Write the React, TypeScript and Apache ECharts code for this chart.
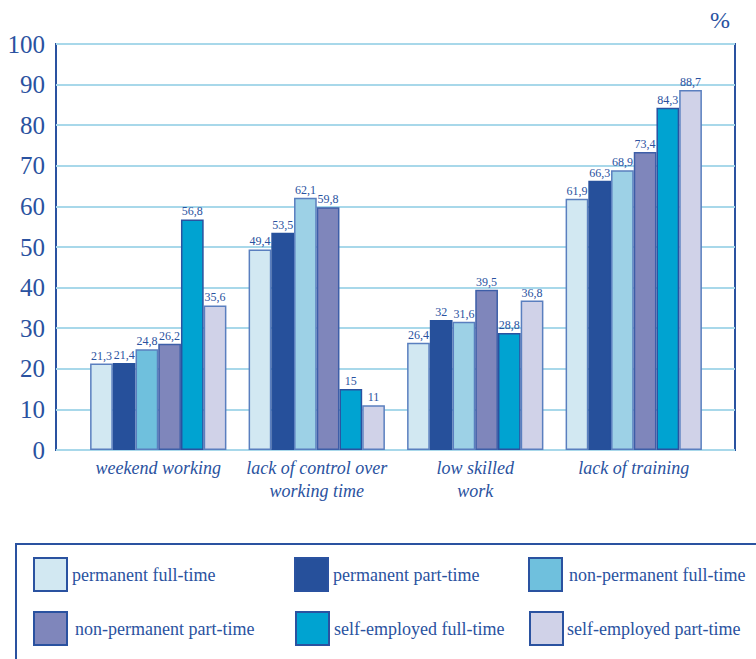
import React, { useEffect, useRef } from "react";
import * as echarts from "echarts";

const categories = [
  "weekend working",
  "lack of control over\nworking time",
  "low skilled\nwork",
  "lack of training",
];
const seriesNames = [
  "permanent full-time",
  "permanent part-time",
  "non-permanent full-time",
  "non-permanent part-time",
  "self-employed full-time",
  "self-employed part-time",
];
const permanentFullTime = [21.3, 49.4, 26.4, 61.9];
const permanentPartTime = [21.4, 53.5, 32, 66.3];
const nonPermanentFullTime = [24.8, 62.1, 31.6, 68.9];
const nonPermanentPartTime = [26.2, 59.8, 39.5, 73.4];
const selfEmployedFullTime = [56.8, 15, 28.8, 84.3];
const selfEmployedPartTime = [35.6, 11, 36.8, 88.7];
const yTicks = [0, 10, 20, 30, 40, 50, 60, 70, 80, 90, 100];

const seriesValues = [
  permanentFullTime,
  permanentPartTime,
  nonPermanentFullTime,
  nonPermanentPartTime,
  selfEmployedFullTime,
  selfEmployedPartTime,
];
const colors = ["#d2e8f2", "#26509b", "#9dd1e6", "#7f86bb", "#00a3d1", "#d0d2e8"];
const legendColors = ["#d2e8f2", "#26509b", "#6fc0dd", "#7f86bb", "#00a3d1", "#d0d2e8"];
const borderColors = ["#5a7fbf", "#26509b", "#5a7fbf", "#3d5ea8", "#2a52a0", "#5a7fbf"];
const legendPos = [
  [33, 557],
  [294, 557],
  [528, 557],
  [33, 611],
  [295, 611],
  [529, 611],
];
const legendTextPad = [5, 5, 7, 8, 5, 4];

const BLUE = "#2a52a0";
const SERIF = "Liberation Serif";

export default function App() {
  const ref = useRef<HTMLDivElement>(null);
  useEffect(() => {
    document.body.style.margin = "0";
    const chart = echarts.init(ref.current!, null, { renderer: "svg" });
    const series = seriesValues.map((vals, i) => ({
      name: seriesNames[i],
      type: "bar",
      xAxisIndex: 1,
      yAxisIndex: 1,
      barGap: "0%",
      barCategoryGap: "14%",
      itemStyle: { color: colors[i], borderColor: borderColors[i], borderWidth: 1.5 },
      label: {
        show: true,
        position: "top",
        distance: 2,
        fontFamily: SERIF,
        fontSize: 12,
        color: BLUE,
        formatter: (p: any) => String(p.value).replace(".", ","),
      },
      data: vals.map((v, j) =>
        i === 2 && j === 0 ? { value: v, itemStyle: { color: "#6fc0dd" } } : v
      ),
    }));
    const legends = seriesNames.map((n, i) => ({
      data: [n],
      left: legendPos[i][0],
      top: legendPos[i][1],
      padding: 0,
      itemWidth: 33,
      itemHeight: 33,
      icon: "rect",
      selectedMode: false,
      itemStyle: { color: legendColors[i], borderColor: BLUE, borderWidth: 2 },
      textStyle: {
        fontFamily: SERIF,
        fontSize: 18,
        color: BLUE,
        padding: [0, 0, 0, legendTextPad[i] - 5],
      },
    }));
    chart.setOption({
      animation: false,
      backgroundColor: "#ffffff",
      grid: [
        { left: 56, right: 21, top: 44, bottom: 209, show: true, borderColor: BLUE, borderWidth: 2, backgroundColor: "transparent" },
        { left: 79, right: 43, top: 44, bottom: 209 },
      ],
      xAxis: [
        { type: "value", gridIndex: 0, show: false, min: 0, max: 1 },
        {
          type: "category",
          gridIndex: 1,
          data: categories,
          axisLine: { show: false },
          axisTick: { show: false },
          axisLabel: {
            fontFamily: SERIF,
            fontStyle: "italic",
            fontSize: 18,
            color: BLUE,
            margin: 6,
            lineHeight: 23,
            interval: 0,
          },
        },
      ],
      yAxis: [
        {
          type: "value",
          gridIndex: 0,
          min: yTicks[0],
          max: yTicks[yTicks.length - 1],
          interval: 10,
          axisLine: { show: false },
          axisTick: { show: false },
          axisLabel: { fontFamily: SERIF, fontSize: 25, color: BLUE, margin: 11 },
          splitLine: { show: true, lineStyle: { color: "#a8d8ea", width: 2 } },
        },
        { type: "value", gridIndex: 1, min: 0, max: 100, show: false, splitLine: { show: false } },
      ],
      legend: legends,
      graphic: [
        {
          type: "text",
          left: 710,
          top: 8,
          style: { text: "%", fontFamily: SERIF, fontSize: 24, fill: BLUE },
        },
        {
          type: "rect",
          shape: { x: 16, y: 544, width: 760, height: 140 },
          style: { fill: "none", stroke: BLUE, lineWidth: 2 },
          z: -1,
        },
      ],
      series,
    });
    return () => chart.dispose();
  }, []);
  return <div ref={ref} style={{ width: 756, height: 659 }} />;
}
